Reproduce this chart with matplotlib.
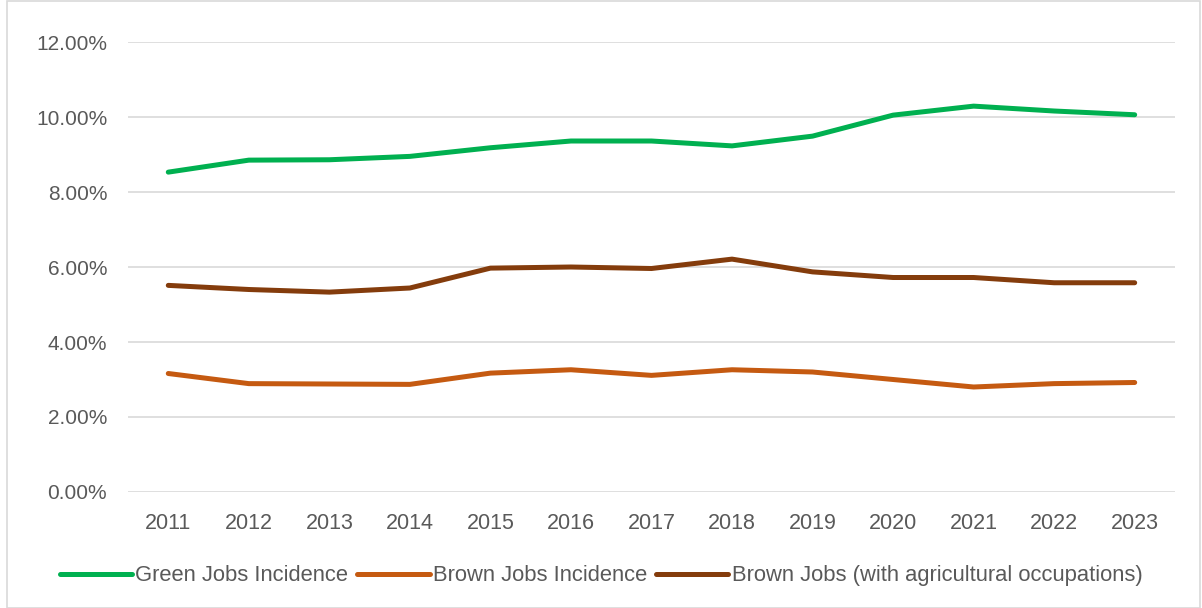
import matplotlib
matplotlib.use("Agg")
import matplotlib.pyplot as plt
from matplotlib.ticker import FuncFormatter
from matplotlib.patches import Rectangle

plt.rcParams['font.family'] = ['Liberation Sans', 'DejaVu Sans']

# Data (percent)
years = ['2011', '2012', '2013', '2014', '2015', '2016', '2017',
         '2018', '2019', '2020', '2021', '2022', '2023']
green_jobs = [8.53, 8.85, 8.86, 8.95, 9.18, 9.36, 9.36, 9.23, 9.49, 10.05, 10.29, 10.16, 10.06]
brown_jobs = [3.16, 2.89, 2.88, 2.87, 3.17, 3.26, 3.11, 3.26, 3.20, 3.00, 2.80, 2.89, 2.92]
brown_agri = [5.51, 5.40, 5.33, 5.44, 5.97, 6.00, 5.96, 6.21, 5.87, 5.72, 5.72, 5.58, 5.58]

labels = ['Green Jobs Incidence', 'Brown Jobs Incidence',
          'Brown Jobs (with agricultural occupations)']
colors = ['#00B050', '#C55A11', '#843C0C']

fig = plt.figure(figsize=(12.02, 6.08), dpi=100)
ax = fig.add_axes([0.1065, 0.1908, 0.871, 0.7401])

x = range(len(years))
for series, lab, col in zip([green_jobs, brown_jobs, brown_agri], labels, colors):
    ax.plot(x, series, color=col, lw=3.6, label=lab,
            solid_capstyle='round', solid_joinstyle='round')

ax.set_xlim(-0.5, len(years) - 0.5)
ax.set_ylim(0, 12)
ax.set_yticks([0, 2, 4, 6, 8, 10, 12])
ax.yaxis.set_major_formatter(FuncFormatter(lambda v, p: f'{v:.2f}%'))
ax.set_xticks(list(x))
ax.set_xticklabels(years)
ax.grid(axis='y', color='#D9D9D9', lw=1.2)
ax.set_axisbelow(True)
for s in ax.spines.values():
    s.set_visible(False)
ax.tick_params(axis='x', length=0, labelsize=15.5, colors='#595959', pad=15)
ax.tick_params(axis='y', length=0, labelsize=15, colors='#595959', pad=15)

leg = fig.legend(loc='center', bbox_to_anchor=(0.5, 0.053), ncol=3, frameon=False,
                 fontsize=15.8, handlelength=3.3, handletextpad=0.15,
                 columnspacing=0.4)
for t in leg.get_texts():
    t.set_color('#595959')

# light outer border of the chart area
fig.patches.append(Rectangle((0.006, 0.0), 0.992, 0.998, transform=fig.transFigure,
                             fill=False, edgecolor='#D9D9D9', lw=1.2))

fig.savefig('out.png', dpi=100)
